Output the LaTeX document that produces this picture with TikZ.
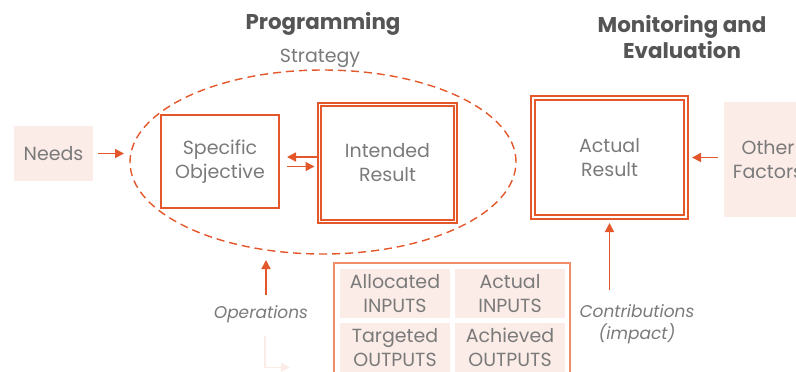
\documentclass[tikz,border=0pt]{standalone}
\usepackage{fontspec}
\setmainfont{Poppins}
\usetikzlibrary{positioning,calc,arrows.meta,shapes.geometric}
\definecolor{mlorange}{HTML}{E4572A}
\definecolor{mlframe}{HTML}{EE8D66}
\definecolor{mlpink}{HTML}{FBECE7}
\definecolor{mlgrey}{HTML}{7A7A7A}
\definecolor{mltitle}{HTML}{555555}
\begin{document}
\begin{tikzpicture}[x=0.5pt,y=-0.5pt,every node/.style={outer sep=0pt},
		txt/.style={text=mlgrey,font=\fontsize{9.5}{12}\selectfont,align=center},
		title/.style={text=mltitle,font=\fontsize{10.7}{13}\selectfont\bfseries,align=center},
		lbl/.style={txt,font=\fontsize{8.5}{11}\selectfont\itshape},
		pinkbox/.style={txt,fill=mlpink,inner sep=0pt},
		single/.style={txt,draw=mlorange,line width=1pt,inner sep=0pt},
		doubled/.style={txt,draw=mlorange,double=white,line width=1pt,double distance=0.6pt,inner sep=0pt},
		arr/.style={draw=mlorange,line width=0.8pt,-{Triangle[length=4.5pt,width=4.5pt]}},
		]
		\useasboundingbox (0,0) rectangle (796,371);
		\clip (0,0) rectangle (796,371);

		% headings
		\node[title] (prog) at (323,24) {Programming};
		\node[title] (monev) at (682,37) {Monitoring and\\Evaluation};
		\node[txt] (strattxt) at (320,58) {Strategy};

		% strategy ellipse and its boxes
		\node[ellipse,draw=mlorange,line width=0.7pt,dash pattern=on 4pt off 2.5pt,
			minimum width=193pt,minimum height=92pt,inner sep=0pt] (strat) at (323,162) {};
		\node[single,minimum width=59pt,minimum height=46.5pt] (spec) at (220,161.5) {Specific\\Objective};
		\node[doubled,minimum width=68pt,minimum height=58.5pt] (intended) at (387.5,163) {Intended\\Result};
		\node[pinkbox,minimum width=39.5pt,minimum height=27.5pt] (needs) at (53.5,153.5) {Needs};

		% monitoring side
		\node[doubled,minimum width=76.5pt,minimum height=59.5pt] (actual) at (609.5,157.5) {Actual\\Result};
		\node[pinkbox,minimum width=44pt,minimum height=57.5pt,anchor=west] (other) at (724,159.5) {Other\\Factors};

		% inputs and outputs
		\node[draw=mlframe,line width=0.6pt,minimum width=118pt,minimum height=60pt,inner sep=0pt] (io) at (452,323) {};
		\node[pinkbox,minimum width=55pt,minimum height=24.5pt] (alloc) at (395,293.5) {Allocated\\INPUTS};
		\node[pinkbox,right=2.5pt of alloc,minimum width=55pt,minimum height=24.5pt] (actin) {Actual\\INPUTS};
		\node[pinkbox,below=2.5pt of alloc,minimum width=55pt,minimum height=24.5pt] (target) {Targeted\\OUTPUTS};
		\node[pinkbox,below=2.5pt of actin,minimum width=55pt,minimum height=24.5pt] (achieved) {Achieved\\OUTPUTS};

		% labels
		\node[lbl] (ops) at (261,314) {Operations};
		\node[lbl] (contrib) at (637,324) {Contributions\\(impact)};

		% connectors
		\draw[arr,shorten <=2.5pt,shorten >=3pt] (needs.east) -- (needs.east -| strat.west);
		\draw[arr,shorten <=1.5pt,shorten >=4pt] ([yshift=3pt]intended.west) -- ([yshift=3pt]intended.west -| spec.east);
		\draw[arr,shorten <=4pt,shorten >=2.5pt] ([yshift=-2.5pt]spec.east) -- ([yshift=-2.5pt]spec.east -| intended.west);
		\draw[arr,shorten <=3pt,shorten >=3pt] (other.west |- actual.east) -- (actual.east);
		\draw[arr,shorten <=2pt,shorten >=3pt] ([xshift=2.5pt]ops.north) -- ([xshift=2.5pt]ops.north |- strat.south);
		\draw[arr,shorten <=4pt,shorten >=3pt] (contrib.north -| actual.south) -- (actual.south);

		% faint arrow below the operations label
		\coordinate (faint) at ($(ops.south)+(4,38)$);
		\draw[draw=mlpink,line width=0.8pt,-{Triangle[length=4.5pt,width=4.5pt]}] ([xshift=2pt,yshift=-3.5pt]ops.south) |- ($(faint)+(25,0)$);
\end{tikzpicture}
\end{document}
